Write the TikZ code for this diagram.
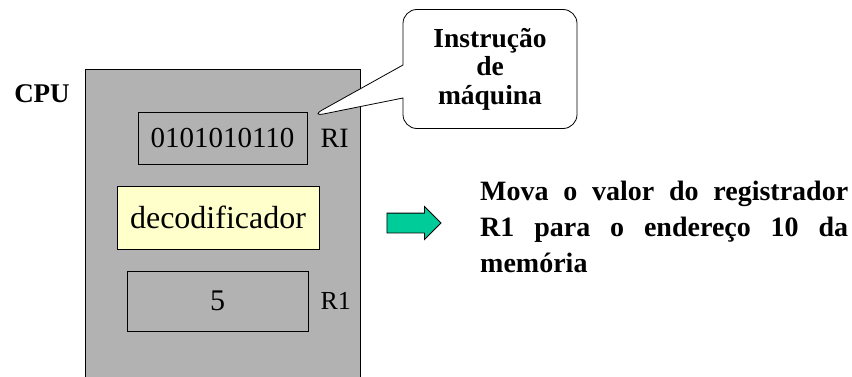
\documentclass[tikz,border=0pt]{standalone}
\usepackage{fontspec}
\setmainfont{Liberation Serif}
\usetikzlibrary{shapes.arrows,shapes.callouts,positioning,calc}

\definecolor{cpugray}{RGB}{178,178,178}
\definecolor{decyellow}{RGB}{255,255,204}
\definecolor{arrowgreen}{RGB}{0,204,153}

\tikzset{
    reg/.style={draw, line width=0.8pt, inner sep=0pt},
    bigtext/.style={font=\fontsize{28}{36}\selectfont\bfseries}
}

\begin{document}
\begin{tikzpicture}[x=1pt,y=1pt]
                \useasboundingbox (0,0) rectangle (852,376);
                %cpu
                \draw[fill=cpugray, line width=0.8pt] (85,307) rectangle (360,-5);
                \node[bigtext, font=\fontsize{27}{30}\selectfont\bfseries] (cpu) at (42,282) {CPU};
                %registers
                \node[reg, minimum width=169pt, minimum height=52pt,
                    font=\fontsize{29}{30}\selectfont] (ri) at (222.5,238) {0101010110};
                \node[right=13pt of ri, inner sep=0pt, font=\fontsize{28}{30}\selectfont] (rilabel) {RI};
                \node[reg, fill=decyellow, minimum width=202pt, minimum height=63pt,
                    font=\fontsize{32}{34}\selectfont] (dec) at (218,158.5) {decodificador};
                \node[reg, minimum width=181pt, minimum height=60pt,
                    font=\fontsize{30}{32}\selectfont] (rone) at (217.5,75) {5};
                \node[right=12pt of rone, inner sep=0pt, font=\fontsize{26}{30}\selectfont] (ronelabel) {R1};
                %callout
                \node[rectangle callout, draw, fill=white, line width=0.8pt, rounded corners=14pt,
                    minimum width=174pt, minimum height=119pt, inner sep=0pt,
                    align=center, font=\fontsize{27.5}{28.5}\selectfont\bfseries,
                    callout absolute pointer={($(ri.north east)+(3,-5)$)},
                    callout pointer width=33pt] (instr) at (490,307) {Instrução\\de\\máquina};
                %arrow
                \node[single arrow, draw, fill=arrowgreen, line width=0.8pt,
                    inner xsep=0pt, inner ysep=9.5pt, text height=0pt, text depth=0pt,
                    minimum height=54pt, single arrow head extend=6.5pt,
                    single arrow head indent=0pt] (go) at (409,153) {};
                \node[bigtext, anchor=north west, inner sep=0pt, text width=368pt, align=justify]
                    (meaning) at (480,195) {Mova o valor do registrador\linebreak R1 para o endereço 10 da\linebreak memória};
            \end{tikzpicture}
\end{document}
